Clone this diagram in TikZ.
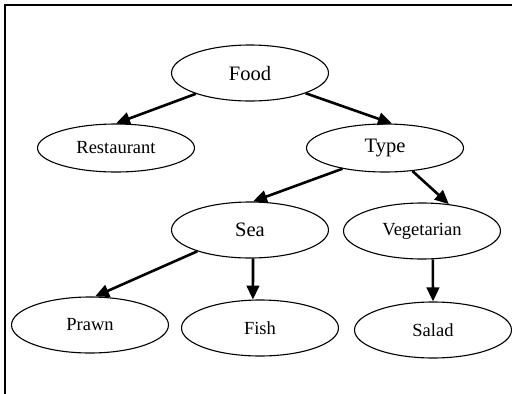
\documentclass[tikz,border=0pt]{standalone}
\usepackage{fontspec}
\setmainfont{Liberation Serif}
\usetikzlibrary{shapes,arrows.meta,positioning}
\tikzstyle{leaf} = [draw,ellipse,line width=1.1pt,inner sep=0,minimum width=157pt,minimum height=56pt,font=\fontsize{18.5}{22}\selectfont]
\tikzstyle{parent} = [leaf,font=\fontsize{20.5}{24}\selectfont]
\tikzstyle{link} = [line width=2.6pt,-{Triangle[length=14pt,width=12.5pt]}]
\tikzstyle{frame} = [line width=1.5pt]

\begin{document}
\begin{tikzpicture}[x=1pt,y=-1pt]
      \useasboundingbox (0,0) rectangle (512,394);
      \draw[frame] (5,394) -- (5,5) -- (512,5);
      \node[parent] (food) at (250,73) {Food};
      \node[leaf,minimum height=48pt] (rest) at (116,148) {Restaurant};
      \node[parent,minimum height=48pt] (type) at (385,148) {Type};
      \node[parent] (sea) at (250,230) {Sea};
      \node[leaf] (veg) at (422,231) {Vegetarian};
      \node[leaf] (prawn) at (90,325) {Prawn};
      \node[leaf] (fish) at (260,328) {Fish};
      \node[leaf] (salad) at (433,330) {Salad};
      \draw[link] (food.201) -- (rest.north);
      \draw[link] (food.-20) -- (type.74);
      \draw[link] (type.206) -- (sea.84);
      \draw[link] (type.-40) -- (veg.45);
      \draw[link] (sea.202) -- (prawn.80);
      \draw[link] (sea.-84) -- (fish.104);
      \draw[link] (veg.-69) -- (salad.north);
    \end{tikzpicture}
\end{document}
